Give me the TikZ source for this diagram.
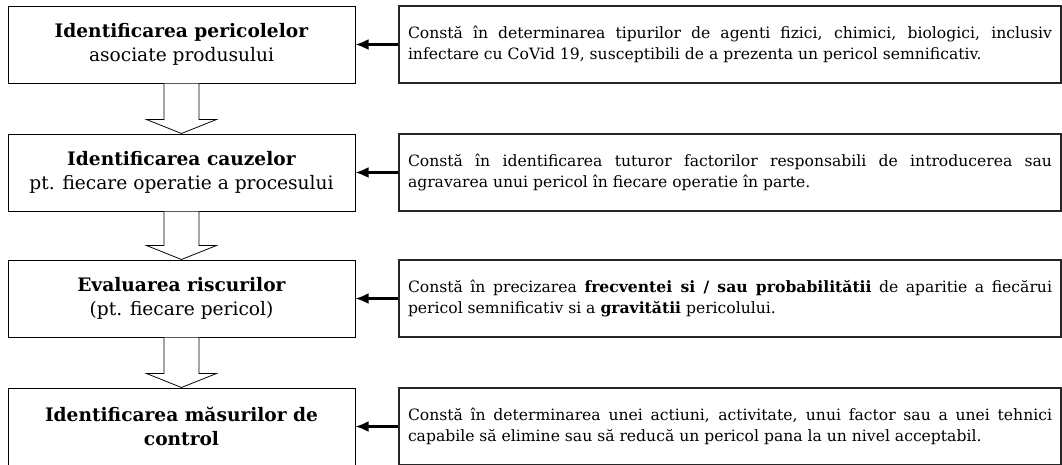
\documentclass[tikz,border=0pt]{standalone}
\usepackage{fontspec}
\setmainfont{DejaVu Serif}
\usetikzlibrary{arrows.meta,calc}

\begin{document}
\begin{tikzpicture}[x=1pt,y=1pt,
  stage/.style={draw=black,line width=1pt,minimum width=347pt,minimum height=77pt,
    align=center,inner sep=0pt,font=\fontsize{18.6}{24}\selectfont},
  desc/.style={draw=black!85,line width=1.3pt,minimum height=77pt,text width=644pt,
    align=justify,inner sep=9pt,font=\fontsize{15.6}{21}\selectfont},
  feed/.style={line width=2.2pt,-{Latex[length=13pt,width=11pt]}},
  down/.style={draw=black,line width=0.8pt,fill=white}]

\useasboundingbox (0,0) rectangle (1062,-464);

%STAGES
\node[stage] (haz) at (181.5,-44.5) {\textbf{Identificarea pericolelor}\\asociate produsului};
\node[stage] (cause) at (181.5,-172.5) {\textbf{Identificarea cauzelor}\\pt. fiecare operatie a procesului};
\node[stage] (risk) at (181.5,-298.5) {\textbf{Evaluarea riscurilor}\\(pt. fiecare pericol)};
\node[stage] (ctrl) at (181.5,-426.5) {\textbf{Identificarea măsurilor de}\\\textbf{control}};

%DESCRIPTIONS
\node[desc] (dhaz) at (730,-44.5) {Constă în determinarea tipurilor de agenti fizici, chimici, biologici, inclusiv\linebreak infectare cu CoVid 19, susceptibili de a prezenta un pericol semnificativ.};
\node[desc] (dcause) at (730,-172.5) {Constă în identificarea tuturor factorilor responsabili de introducerea sau\linebreak agravarea unui pericol în fiecare operatie în parte.};
\node[desc] (drisk) at (730,-298.5) {Constă în precizarea \textbf{frecventei si / sau probabilitătii} de aparitie a fiecărui\linebreak pericol semnificativ si a \textbf{gravitătii} pericolului.};
\node[desc] (dctrl) at (730,-426.5) {Constă în determinarea unei actiuni, activitate, unui factor sau a unei tehnici\linebreak capabile să elimine sau să reducă un pericol pana la un nivel acceptabil.};

%ARROWS
% description to stage
\foreach \d/\s in {dhaz/haz,dcause/cause,drisk/risk,dctrl/ctrl}
  \draw[feed] (\d.west) -- (\s.east);

% hollow arrows between stages
\foreach \a/\b in {haz/cause,cause/risk,risk/ctrl}
  \draw[down] ($(\a.south)+(-17.5,0)$) -- ($(\b.north)+(-17.5,14)$) -- ++(-17.5,0)
    -- (\b.north) -- ++(35,14) -- ++(-17.5,0) -- ($(\a.south)+(17.5,0)$);

\end{tikzpicture}
\end{document}
